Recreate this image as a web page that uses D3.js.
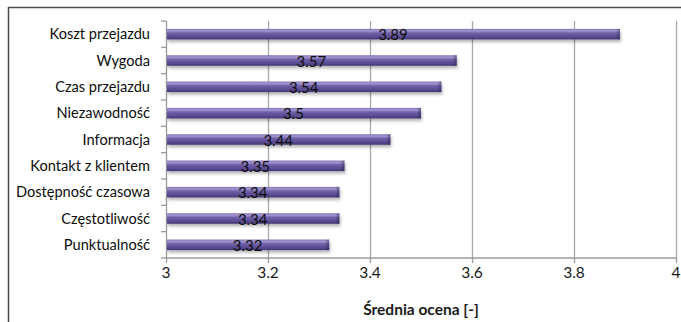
<!DOCTYPE html>
<html>
<head>
<meta charset="utf-8">
<script src="https://cdn.jsdelivr.net/npm/d3@7"></script>
<style>
  html, body { margin: 0; padding: 0; background: #fff; }
  svg { display: block; }
  text { font-family: Lato, "Open Sans", sans-serif; }
</style>
</head>
<body>
<svg id="chart" width="681" height="322"></svg>
<script>
// Average rating per service attribute
const categories = [
  "Koszt przejazdu", "Wygoda", "Czas przejazdu", "Niezawodność", "Informacja",
  "Kontakt z klientem", "Dostępność czasowa", "Częstotliwość", "Punktualność"
];
const values = [3.89, 3.57, 3.54, 3.5, 3.44, 3.35, 3.34, 3.34, 3.32];
const valueLabels = ["3.89", "3.57", "3.54", "3.5", "3.44", "3.35", "3.34", "3.34", "3.32"];
const xTicks = [3, 3.2, 3.4, 3.6, 3.8, 4];
const xTickLabels = ["3", "3.2", "3.4", "3.6", "3.8", "4"];
const xTitle = "Średnia ocena [-]";

const svg = d3.select("#chart");
const W = 681, H = 322;
const plot = { left: 166, right: 676, top: 21, bottom: 258 };

const x = d3.scaleLinear().domain([3, 4]).range([plot.left, plot.right]);
const y = d3.scaleBand().domain(categories).range([plot.top, plot.bottom])
  .paddingInner(0.6).paddingOuter(0.3);

const defs = svg.append("defs");
const grad = defs.append("linearGradient").attr("id", "barGrad")
  .attr("x1", 0).attr("y1", 0).attr("x2", 0).attr("y2", 1);
[["0%", "#7f70b4"], ["18%", "#a497d0"], ["40%", "#7061a8"], ["75%", "#5a4b92"], ["100%", "#433674"]]
  .forEach(([o, c]) => grad.append("stop").attr("offset", o).attr("stop-color", c));
const endGrad = defs.append("linearGradient").attr("id", "endGrad")
  .attr("x1", 0).attr("y1", 0).attr("x2", 1).attr("y2", 0);
endGrad.append("stop").attr("offset", "0%").attr("stop-color", "#000").attr("stop-opacity", 0);
endGrad.append("stop").attr("offset", "100%").attr("stop-color", "#2a2050").attr("stop-opacity", 0.45);
const shadow = defs.append("filter").attr("id", "shadow")
  .attr("x", "-5%").attr("y", "-50%").attr("width", "110%").attr("height", "220%");
shadow.append("feDropShadow").attr("dx", 1).attr("dy", 2.5)
  .attr("stdDeviation", 1.4).attr("flood-color", "#000").attr("flood-opacity", 0.3);

// Frame (top and left edges)
svg.append("line").attr("x1", 8).attr("x2", W).attr("y1", 7.5).attr("y2", 7.5)
  .attr("stroke", "#4a4a4a").attr("stroke-width", 1.5);
svg.append("line").attr("x1", 8.5).attr("x2", 8.5).attr("y1", 7).attr("y2", H)
  .attr("stroke", "#4a4a4a").attr("stroke-width", 1.5);

// Vertical gridlines
svg.append("g").selectAll("line").data(xTicks.slice(1)).join("line")
  .attr("x1", d => Math.round(x(d)) + 0.5).attr("x2", d => Math.round(x(d)) + 0.5)
  .attr("y1", plot.top).attr("y2", plot.bottom)
  .attr("stroke", "#a8a8a8").attr("stroke-width", 1.3);

// Category axis
const yAxis = svg.append("g").attr("transform", `translate(${plot.left},0)`);
yAxis.append("line").attr("x1", 0.5).attr("x2", 0.5).attr("y1", plot.top).attr("y2", plot.bottom)
  .attr("stroke", "#9a9a9a").attr("stroke-width", 1.3);
const step = y.step();
const bounds = d3.range(categories.length + 1).map(i => plot.top + i * step);
yAxis.selectAll("line.tick").data(bounds).join("line").attr("class", "tick")
  .attr("x1", -5).attr("x2", 0.5).attr("y1", d => d).attr("y2", d => d)
  .attr("stroke", "#9a9a9a").attr("stroke-width", 1.3);

svg.append("g").selectAll("text").data(categories).join("text")
  .attr("x", 150).attr("y", d => y(d) + y.bandwidth() / 2)
  .attr("dy", "0.35em").attr("text-anchor", "end")
  .attr("font-size", 14.6).attr("fill", "#0d0d0d").text(d => d);

// Value axis
const xAxis = svg.append("g").attr("transform", `translate(0,${plot.bottom})`);
xAxis.append("line").attr("x1", plot.left).attr("x2", plot.right + 1)
  .attr("stroke", "#9a9a9a").attr("stroke-width", 1.3);
xAxis.selectAll("line.tick").data(xTicks).join("line").attr("class", "tick")
  .attr("x1", d => Math.round(x(d)) + 0.5).attr("x2", d => Math.round(x(d)) + 0.5)
  .attr("y1", 0).attr("y2", 5).attr("stroke", "#9a9a9a").attr("stroke-width", 1.3);
xAxis.selectAll("text").data(xTicks).join("text")
  .attr("x", d => x(d)).attr("y", 15).attr("dy", "0.35em").attr("text-anchor", "middle")
  .attr("font-size", 15.5).attr("fill", "#1a1a1a").text((d, i) => xTickLabels[i]);

svg.append("text").attr("x", (plot.left + plot.right) / 2).attr("y", 310)
  .attr("dy", "0.35em").attr("text-anchor", "middle")
  .attr("font-size", 15.5).attr("font-weight", "bold").attr("fill", "#1a1a1a").text(xTitle);

// Bars
const bars = svg.append("g").selectAll("g").data(categories).join("g");
bars.append("rect")
  .attr("x", x(3) + 1).attr("y", d => y(d))
  .attr("width", (d, i) => x(values[i]) - x(3) - 1).attr("height", y.bandwidth())
  .attr("fill", "url(#barGrad)").attr("filter", "url(#shadow)");
bars.append("rect")
  .attr("x", (d, i) => x(values[i]) - 4).attr("y", d => y(d))
  .attr("width", 4).attr("height", y.bandwidth())
  .attr("fill", "url(#endGrad)");

// Value labels centred on each bar
svg.append("g").selectAll("text").data(categories).join("text")
  .attr("x", (d, i) => (x(3) + x(values[i])) / 2)
  .attr("y", d => y(d) + y.bandwidth() / 2 + 1)
  .attr("dy", "0.35em").attr("text-anchor", "middle")
  .attr("font-size", 15).attr("fill", "#0d0d0d").text((d, i) => valueLabels[i]);
</script>
</body>
</html>
